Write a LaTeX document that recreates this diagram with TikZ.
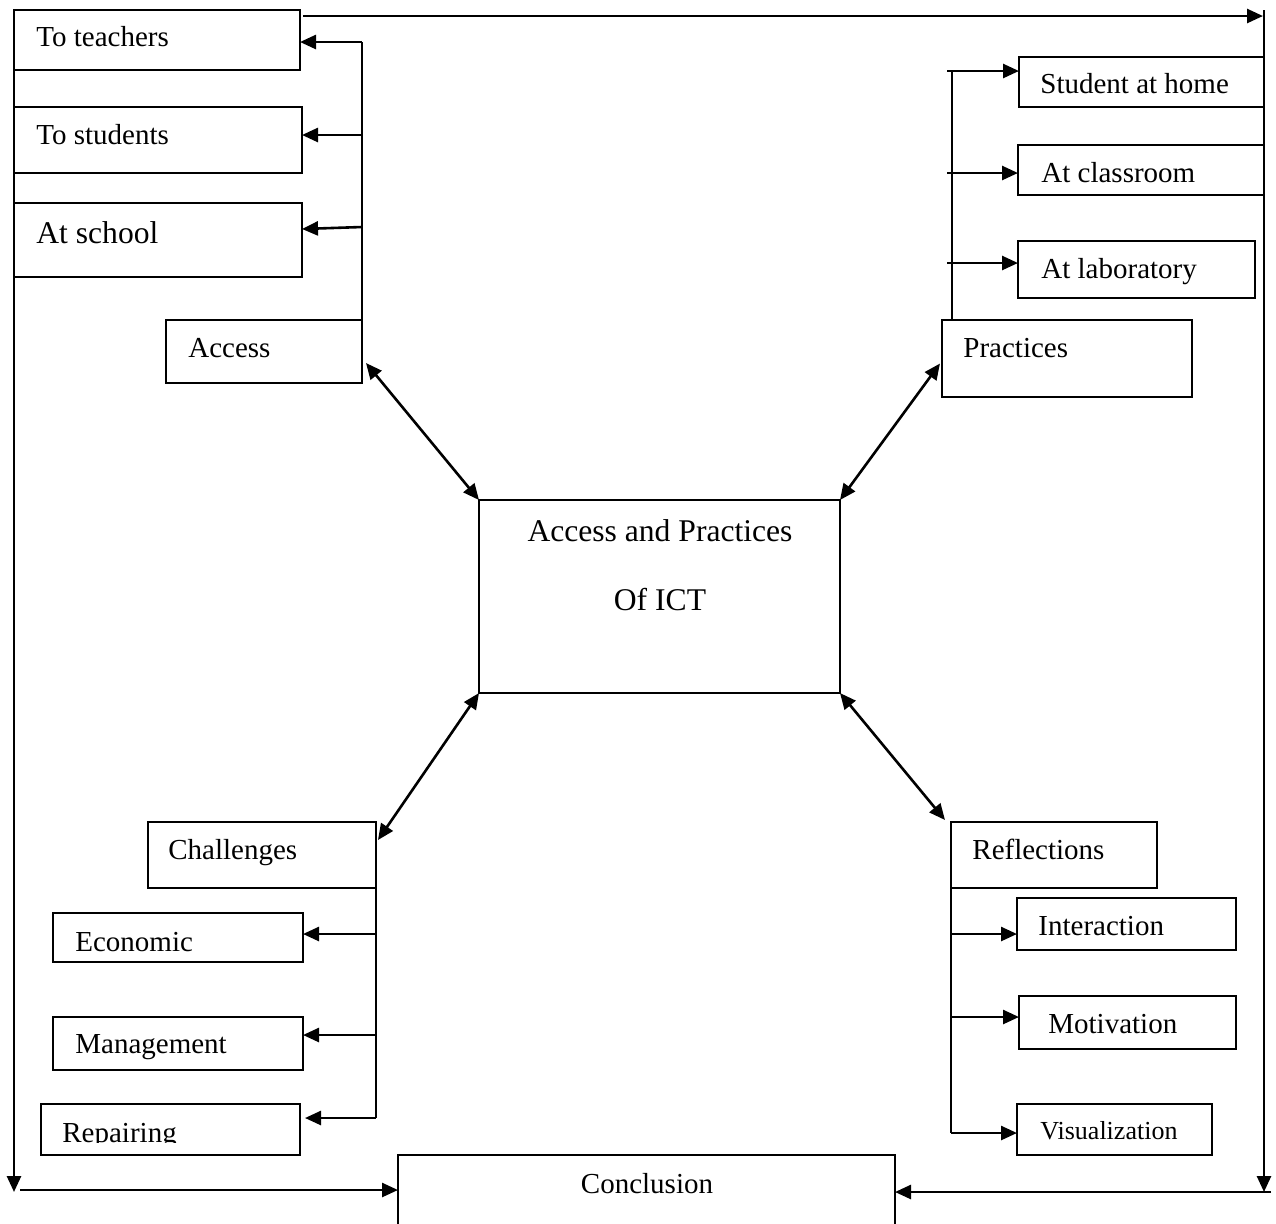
\documentclass[tikz,border=0pt]{standalone}
\usepackage{fontspec}
\setmainfont{Liberation Serif}
\usetikzlibrary{arrows.meta,fit,calc}
\begin{document}
\begin{tikzpicture}[x=0.5pt,y=-0.5pt,
 box/.style={draw,line width=1.1pt,inner sep=0pt,outer sep=0pt},
 lbl/.style={inner sep=0pt,anchor=base west,font=\fontsize{14.5}{17}\selectfont},
 big/.style={inner sep=0pt,font=\fontsize{15.8}{19}\selectfont},
 ln/.style={line width=1.3pt},
 arr/.style={ln,-{Triangle[length=8pt,width=7pt]}},
 dbl/.style={ln,{Triangle[length=8pt,width=7pt]}-{Triangle[length=8pt,width=7pt]}}]
\useasboundingbox (0,0) rectangle (1276,1223);
\clip (0,0) rectangle (1276,1223);

% ---------- boxes ----------
\node[box,fit={(14,10)(300,70)}] (tt) {};
\node[box,fit={(14,107)(302,173)}] (ts) {};
\node[box,fit={(14,203)(302,277)}] (sc) {};
\node[box,fit={(166,320)(362,383)}] (acc) {};

\node[box,fit={(1019,57)(1264,107)}] (sh) {};
\node[box,fit={(1018,145)(1264,195)}] (cl) {};
\node[box,fit={(1018,241)(1255,298)}] (lab) {};
\node[box,fit={(942,320)(1192,397)}] (prc) {};

\node[box,fit={(479,500)(840,693)}] (cen) {};

\node[box,fit={(148,822)(376,888)}] (chl) {};
\node[box,fit={(53,913)(303,962)}] (eco) {};
\node[box,fit={(53,1017)(303,1070)}] (man) {};
\node[box,fit={(41,1104)(300,1155)}] (rep) {};

\node[box,fit={(951,822)(1157,888)}] (rfl) {};
\node[box,fit={(1017,898)(1236,950)}] (int) {};
\node[box,fit={(1019,996)(1236,1049)}] (mot) {};
\node[box,fit={(1017,1104)(1212,1155)}] (vis) {};

\node[box,fit={(398,1155)(895,1260)}] (con) {};

% ---------- texts ----------
\node[lbl] at (36,46) {To teachers};
\node[lbl] at (36,144) {To students};
\node[lbl,font=\fontsize{15.8}{19}\selectfont] at (36,243) {At school};
\node[lbl] at (188,357) {Access};

\node[lbl] at (1040,93) {Student at home};
\node[lbl] at (1041,182) {At classroom};
\node[lbl] at (1041,278) {At laboratory};
\node[lbl] at (963,357) {Practices};

\node[big,anchor=base] at (660,541) {Access and Practices};
\node[big,anchor=base] at (660,610) {Of ICT};

\node[lbl] at (168,859) {Challenges};
\node[lbl] at (75,951) {Economic};
\node[lbl] at (75,1053) {Management};
\begin{scope}
\clip (0,0) rectangle (1276,1142);
\node[lbl] at (62,1142) {Repairing};
\end{scope}

\node[lbl] at (972,859) {Reflections};
\node[lbl] at (1038,935) {Interaction};
\node[lbl] at (1048,1033) {Motivation};
\node[lbl,font=\fontsize{13}{15}\selectfont] at (1040,1139) {Visualization};

\node[lbl,anchor=base] at (647,1193) {Conclusion};

% ---------- Access branch ----------
\draw[ln] (acc.north east) -- (acc.north east |- 0,42);
\draw[arr] (acc.north east |- 0,42) -- (tt.east |- 0,42);
\draw[arr] (acc.north east |- 0,135) -- (ts.east |- 0,135);
\draw[arr] (acc.north east |- 0,227) -- (sc.east |- 0,229);

% ---------- Practices branch ----------
\coordinate (pt) at ($(prc.north west)+(10,0)$);
\draw[ln] (pt) -- (pt |- 0,70);
\draw[arr] (947,71) -- (sh.west |- 0,71);
\draw[arr] (947,173) -- (cl.west |- 0,173);
\draw[arr] (947,263) -- (lab.west |- 0,263);

% ---------- Challenges branch ----------
\draw[ln] (chl.south east) -- (chl.south east |- 0,1118);
\draw[arr] (chl.south east |- 0,934) -- (eco.east |- 0,934);
\draw[arr] (chl.south east |- 0,1035) -- (man.east |- 0,1035);
\draw[arr] (chl.south east |- 0,1118) -- ($(rep.east |- 0,1118)+(5,0)$);

% ---------- Reflections branch ----------
\draw[ln] (rfl.south west) -- (rfl.south west |- 0,1133);
\draw[arr] (rfl.south west |- 0,934) -- (int.west |- 0,934);
\draw[arr] (rfl.south west |- 0,1017) -- (mot.west |- 0,1017);
\draw[arr] (rfl.south west |- 0,1133) -- (vis.west |- 0,1133);

% ---------- diagonals ----------
\draw[dbl] ($(acc.south east)+(4,-20)$) -- (cen.north west);
\draw[dbl] ($(prc.west)+(-2,5)$) -- (cen.north east);
\draw[dbl] ($(chl.north east)+(2,18)$) -- (cen.south west);
\draw[dbl] (cen.south east) -- ($(rfl.north west)+(-6,-2)$);

% ---------- outer loop to Conclusion ----------
\coordinate (trc) at (1263,16);
\draw[arr] ($(tt.north east)+(3,6)$) -- (trc);
\draw[arr] (1264,10) -- (1264,1192);
\draw[arr] (1271,1192) -- (con.east |- 0,1192);
\draw[arr] (14,18) -- (14,1192);
\draw[arr] (20,1190) -- (con.west |- 0,1190);
\end{tikzpicture}
\end{document}
